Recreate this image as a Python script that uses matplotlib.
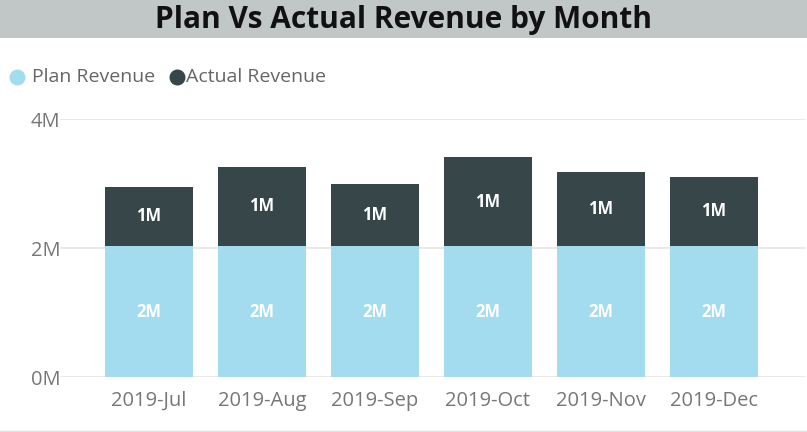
import matplotlib
matplotlib.use("Agg")
import matplotlib.pyplot as plt
from matplotlib.patches import Rectangle
import numpy as np

months = ["2019-Jul", "2019-Aug", "2019-Sep", "2019-Oct", "2019-Nov", "2019-Dec"]
plan_revenue = [2.04, 2.04, 2.04, 2.04, 2.04, 2.04]      # millions
actual_revenue = [0.915, 1.225, 0.96, 1.37, 1.14, 1.067]  # millions
y_ticks = [0, 2, 4]
y_tick_labels = ["0M", "2M", "4M"]

PLAN_C = "#A3DCEE"
ACT_C = "#374649"
FONT = ["Open Sans", "DejaVu Sans"]

W, H = 807, 432
fig = plt.figure(figsize=(W / 100, H / 100), dpi=100)
fig.patch.set_facecolor("white")

# Title bar
fig.add_artist(Rectangle((0, 1 - 38 / H), 1, 38 / H, transform=fig.transFigure,
                         facecolor="#C1C6C6", edgecolor="none", zorder=0))
fig.text(0.5, 1 - 20 / H, "Plan Vs Actual Revenue by Month", ha="center", va="center",
         fontsize=21.5, fontweight="bold", color="#111111", family=FONT)
# bottom border
fig.add_artist(plt.Line2D([0, 1], [1 - 431 / H, 1 - 431 / H], transform=fig.transFigure,
                          color="#E0E0E0", lw=1))

# Legend
leg_y = 1 - 76.5 / H
fig.add_artist(plt.Line2D([17 / W], [leg_y], marker="o", markersize=10.5, color=PLAN_C,
                          transform=fig.transFigure, linestyle="none"))
fig.text(32 / W, leg_y, "Plan Revenue", ha="left", va="center", fontsize=14,
         color="#666666", family=FONT)
fig.add_artist(plt.Line2D([177 / W], [leg_y], marker="o", markersize=10.5, color=ACT_C,
                          transform=fig.transFigure, linestyle="none"))
fig.text(186 / W, leg_y, "Actual Revenue", ha="left", va="center", fontsize=14,
         color="#666666", family=FONT)

left, right = 60 / W, 805 / W
bottom, top = 1 - 377.3 / H, 1 - 119.3 / H
ax = fig.add_axes([left, bottom, right - left, top - bottom])
ax.set_xlim(-0.786, 5.807)
ax.set_ylim(0, 4)

x = np.arange(len(months))
bw = 0.776
ax.bar(x, plan_revenue, width=bw, color=PLAN_C, zorder=3)
ax.bar(x, actual_revenue, width=bw, bottom=plan_revenue, color=ACT_C, zorder=3)

for xi, p, a in zip(x, plan_revenue, actual_revenue):
    ax.text(xi, p / 2, f"{round(p):.0f}M", ha="center", va="center", color="white",
            fontsize=12, fontweight="bold", family=FONT, zorder=4)
    ax.text(xi, p + a / 2, f"{max(1, round(a)):.0f}M", ha="center", va="center", color="white",
            fontsize=12, fontweight="bold", family=FONT, zorder=4)

for s in ax.spines.values():
    s.set_visible(False)
ax.set_yticks(y_ticks)
ax.set_yticklabels(y_tick_labels)
ax.yaxis.grid(True, color="#E6E6E6", lw=1.2, zorder=0)
ax.tick_params(axis="y", length=0, pad=21, labelsize=14.5, labelcolor="#777777")
ax.tick_params(axis="x", length=0, pad=10, labelsize=14.5, labelcolor="#777777")
for lab in ax.get_yticklabels():
    lab.set_horizontalalignment("left")
ax.set_xticks(x)
ax.set_xticklabels(months)
for lab in ax.get_xticklabels() + ax.get_yticklabels():
    lab.set_family(FONT)

fig.savefig("out.png", dpi=100, facecolor="white")
